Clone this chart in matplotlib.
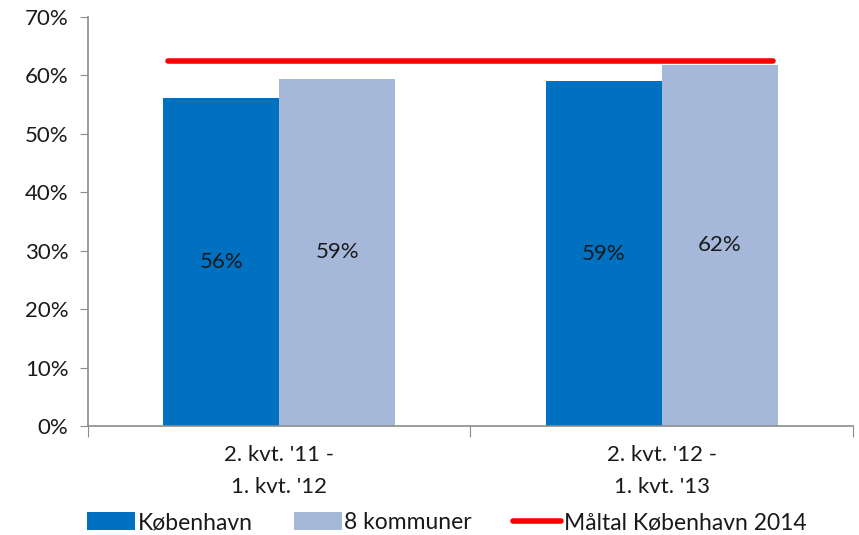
import matplotlib
matplotlib.use("Agg")
import matplotlib.pyplot as plt
import numpy as np
from matplotlib.ticker import FuncFormatter

plt.rcParams["font.family"] = ["Lato", "DejaVu Sans"]

categories = ["2. kvt. '11 -\n1. kvt. '12", "2. kvt. '12 -\n1. kvt. '13"]
koebenhavn = [56.1, 59.0]
kommuner8 = [59.4, 61.8]
bar_labels_kbh = ["56%", "59%"]
bar_labels_8k = ["59%", "62%"]
target = [62.5, 62.5]
series_names = ["København", "8 kommuner", "Måltal København 2014"]

dark_blue = "#0070C0"
light_blue = "#A6B8DA"
red = "#FF0000"
grey = "#8C8C8C"
text_col = "#1a1a1a"

fig = plt.figure(figsize=(8.59, 5.35), dpi=100)
ax = fig.add_axes([0.1024, 0.2037, 0.8906, 0.7645])

x = np.arange(len(categories))
w = 0.303
b1 = ax.bar(x - w / 2, koebenhavn, w, color=dark_blue, label=series_names[0])
b2 = ax.bar(x + w / 2, kommuner8, w, color=light_blue, label=series_names[1])
ln, = ax.plot([x[0] - 0.29, x[-1] + 0.29], target, color=red, lw=4,
              solid_capstyle="round", label=series_names[2])

# data labels centred in each bar
for bars, labs in [(b1, bar_labels_kbh), (b2, bar_labels_8k)]:
    for rect, lab in zip(bars, labs):
        ax.text(rect.get_x() + rect.get_width() / 2, rect.get_height() / 2, lab,
                ha="center", va="center", fontsize=16, color=text_col)

ax.set_xlim(-0.5, 1.5)
ax.set_ylim(0, 70)
ax.set_yticks(np.arange(0, 71, 10))
ax.yaxis.set_major_formatter(FuncFormatter(lambda v, p: f"{int(v)}%"))
ax.set_xticks([-0.5, 0.5, 1.5])
ax.set_xticklabels([])
ax.set_xticks(x, minor=True)
ax.set_xticklabels(categories, minor=True, fontsize=16, linespacing=1.7,
                   color=text_col)
ax.tick_params(axis="x", which="minor", length=0, pad=14)
ax.tick_params(axis="x", which="major", length=8, color=grey, direction="out")
ax.tick_params(axis="y", length=6, color=grey, labelsize=16, pad=8, labelcolor=text_col)

for s in ["top", "right"]:
    ax.spines[s].set_visible(False)
for s in ["left", "bottom"]:
    ax.spines[s].set_color(grey)
    ax.spines[s].set_linewidth(1.2)

leg = fig.legend(handles=[b1, b2, ln], labels=series_names, loc="lower center",
                 bbox_to_anchor=(0.52, -0.035), ncol=3, frameon=False, fontsize=16.5,
                 handlelength=2.1, handleheight=0.8, handletextpad=0.1,
                 columnspacing=1.8)
for t in leg.get_texts():
    t.set_color(text_col)

fig.savefig("out.png", dpi=100)
